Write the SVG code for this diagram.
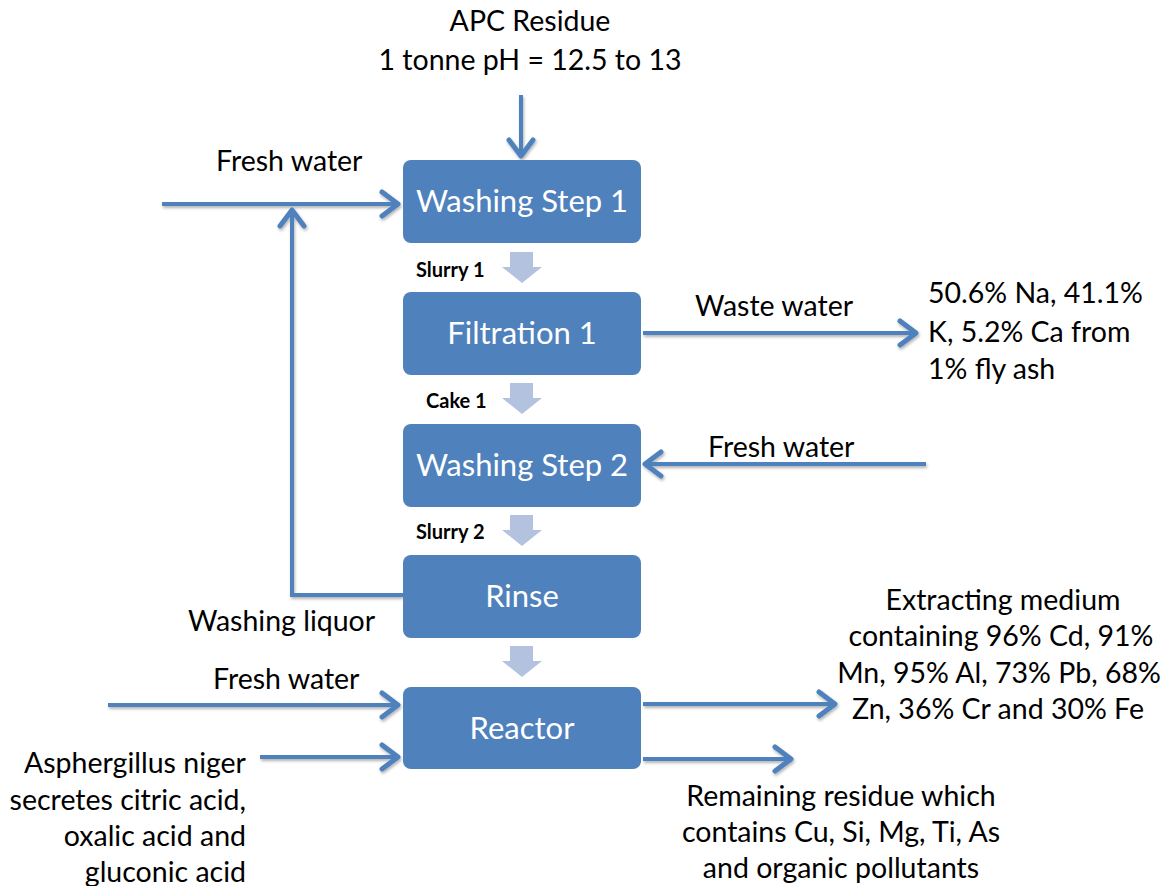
<svg xmlns="http://www.w3.org/2000/svg" width="1168" height="886" viewBox="0 0 1168 886">
  <style>
    .box { fill: #4F81BD; }
    .boxtxt { fill: #FFFFFF; font-family: Lato, "Open Sans", sans-serif; font-size: 31px; text-anchor: middle; }
    .lbl { fill: #000000; font-family: Lato, "Open Sans", sans-serif; font-size: 28.5px; }
    .tag { fill: #000000; font-family: Lato, "Open Sans", sans-serif; font-size: 20px; font-weight: bold; }
    .flow { fill: none; stroke: #4F81BD; stroke-width: 4; stroke-linejoin: miter; }
    .step { fill: #B3C3DF; }
  </style>
  <defs>
    <filter id="shadow" x="-20%" y="-20%" width="140%" height="140%">
      <feDropShadow dx="1" dy="2" stdDeviation="1.5" flood-color="#000" flood-opacity="0.3"/>
    </filter>
    <marker id="head" markerUnits="userSpaceOnUse" viewBox="-22 -16 26 32" refX="0" refY="0" markerWidth="26" markerHeight="32" orient="auto">
      <path d="M-16,-12 L0,0 L-16,12" fill="none" stroke="#4F81BD" stroke-width="5" stroke-linecap="round" stroke-linejoin="round"/>
    </marker>
  </defs>

  <!-- process flow lines -->
  <g id="connectors" filter="url(#shadow)">
    <line class="flow" x1="521" y1="95" x2="521" y2="156" marker-end="url(#head)"/>
    <line class="flow" x1="162" y1="204" x2="398" y2="204" marker-end="url(#head)"/>
    <polyline class="flow" points="403,595 292,595 292,210" marker-end="url(#head)"/>
    <line class="flow" x1="643" y1="333" x2="916" y2="333" marker-end="url(#head)"/>
    <line class="flow" x1="926" y1="464" x2="645" y2="464" marker-end="url(#head)"/>
    <line class="flow" x1="108" y1="705" x2="398" y2="705" marker-end="url(#head)"/>
    <line class="flow" x1="260" y1="757" x2="398" y2="757" marker-end="url(#head)"/>
    <line class="flow" x1="643" y1="704" x2="835" y2="704" marker-end="url(#head)"/>
    <line class="flow" x1="643" y1="759" x2="791" y2="759" marker-end="url(#head)"/>
  </g>

  <!-- block arrows between steps -->
  <g id="steps">
    <path class="step" d="M510,252 H533 V267 H542 L522,283 L502,267 H510 Z"/>
    <path class="step" d="M510,383 H533 V398 H542 L522,414 L502,398 H510 Z"/>
    <path class="step" d="M510,515 H533 V530 H542 L522,546 L502,530 H510 Z"/>
    <path class="step" d="M510,646 H533 V661 H542 L522,677 L502,661 H510 Z"/>
  </g>

  <g id="washing1">
    <rect class="box" x="403" y="160" width="238" height="83" rx="8"/>
    <text class="boxtxt" x="522" y="212">Washing Step 1</text>
  </g>
  <g id="filtration1">
    <rect class="box" x="403" y="292" width="238" height="83" rx="8"/>
    <text class="boxtxt" x="522" y="344">Filtration 1</text>
  </g>
  <g id="washing2">
    <rect class="box" x="403" y="424" width="238" height="83" rx="8"/>
    <text class="boxtxt" x="522" y="476">Washing Step 2</text>
  </g>
  <g id="rinse">
    <rect class="box" x="403" y="555" width="238" height="83" rx="8"/>
    <text class="boxtxt" x="522" y="607">Rinse</text>
  </g>
  <g id="reactor">
    <rect class="box" x="403" y="687" width="238" height="82" rx="8"/>
    <text class="boxtxt" x="522" y="739">Reactor</text>
  </g>

  <!-- stream labels -->
  <g id="labels">
    <text class="tag" x="416" y="277">Slurry 1</text>
    <text class="tag" x="426" y="408">Cake 1</text>
    <text class="tag" x="416" y="539">Slurry 2</text>

    <text class="lbl" x="530" y="31" text-anchor="middle">APC Residue</text>
    <text class="lbl" x="530" y="70" text-anchor="middle">1 tonne pH = 12.5 to 13</text>
    <text class="lbl" x="216" y="171">Fresh water</text>
    <text class="lbl" x="695" y="316">Waste water</text>
    <text class="lbl" x="928" y="303">50.6% Na, 41.1%</text>
    <text class="lbl" x="928" y="342">K, 5.2% Ca from</text>
    <text class="lbl" x="928" y="379">1% fly ash</text>
    <text class="lbl" x="708" y="457">Fresh water</text>
    <text class="lbl" x="188" y="631">Washing liquor</text>
    <text class="lbl" x="213" y="689">Fresh water</text>
    <text class="lbl" x="1003" y="610" text-anchor="middle">Extracting medium</text>
    <text class="lbl" x="1001" y="646" text-anchor="middle">containing 96% Cd, 91%</text>
    <text class="lbl" x="999" y="683" text-anchor="middle">Mn, 95% Al, 73% Pb, 68%</text>
    <text class="lbl" x="998" y="719" text-anchor="middle">Zn, 36% Cr and 30% Fe</text>
    <text class="lbl" x="246" y="773" text-anchor="end">Asphergillus niger</text>
    <text class="lbl" x="246" y="810" text-anchor="end">secretes citric acid,</text>
    <text class="lbl" x="246" y="846" text-anchor="end">oxalic acid and</text>
    <text class="lbl" x="246" y="882" text-anchor="end">gluconic acid</text>
    <text class="lbl" x="841" y="806" text-anchor="middle">Remaining residue which</text>
    <text class="lbl" x="841" y="842" text-anchor="middle">contains Cu, Si, Mg, Ti, As</text>
    <text class="lbl" x="841" y="878" text-anchor="middle">and organic pollutants</text>
  </g>
</svg>
